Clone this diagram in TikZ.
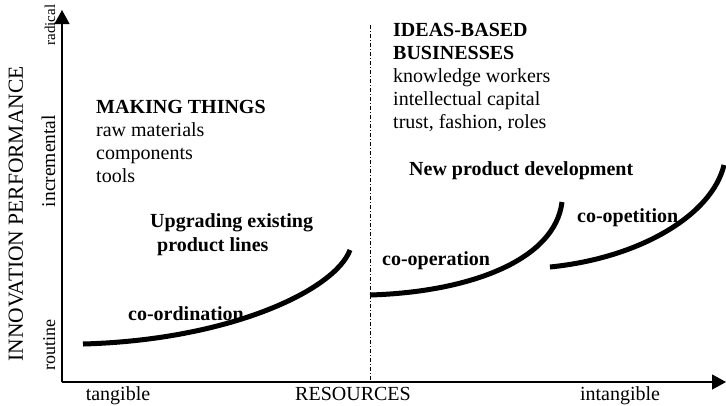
\documentclass[tikz,border=0pt]{standalone}
\usepackage{fontspec}
\setmainfont{Liberation Serif}
\usetikzlibrary{arrows.meta}

\begin{document}
\begin{tikzpicture}[x=1pt,y=-1pt,
    every node/.style={font=\fontsize{20}{23}\selectfont,inner sep=0pt},
    txt/.style={anchor=base west,align=left},
    hd/.style={txt,font=\fontsize{20}{24}\selectfont\bfseries},
    tick/.style={rotate=90,anchor=base,font=\fontsize{18}{20}\selectfont},
    curve/.style={line width=5pt},
    axis/.style={line width=1.2pt,-{Triangle[length=14pt,width=15pt]}}]
    \useasboundingbox (0,0) rectangle (726,405);
    % axes
    \coordinate (o) at (62,382);
    \coordinate (ytop) at (62,10);
    \coordinate (xend) at (726,382);
    \draw[axis] (o) -- (ytop);
    \draw[axis] (o) -- (xend);
    \coordinate (dtop) at (370,25);
    \coordinate (dbot) at (370,382);
    \draw[line width=0.8pt,dash pattern=on 4pt off 2pt on 1pt off 2pt] (dtop) -- (dbot);
    % axis labels
    \node[anchor=base] (tang) at (118,400) {tangible};
    \node[anchor=base] (res) at (353,400) {RESOURCES};
    \node[anchor=base] (intang) at (620,400) {intangible};
    \node[tick,font=\fontsize{15}{18}\selectfont] (rad) at (55,25) {radical};
    \node[tick,font=\fontsize{19.5}{22}\selectfont] (inc) at (55,161) {incremental};
    \node[tick] (rou) at (55,345) {routine};
    \node[rotate=90,anchor=base,font=\fontsize{21.5}{24}\selectfont] (perf) at (23,214) {INNOVATION PERFORMANCE};
    % making things (base = last line)
    \node[txt] (make) at (96,182) {\textbf{MAKING THINGS}\\raw materials\\components\\tools};
    \node[hd] (upg) at (150,251) {Upgrading existing\\\hspace*{7pt}product lines};
    \node[hd] (coord) at (128,320) {co-ordination};
    \draw[curve] (83,344) .. controls (230,340) and (335,290) .. (350,250);
    % ideas-based businesses
    \node[txt] (ideas) at (393,128) {\textbf{IDEAS-BASED}\\\textbf{BUSINESSES}\\knowledge workers\\intellectual capital\\trust, fashion, roles};
    \node[hd] (npd) at (409,175) {New product development};
    \node[hd] (coop) at (382,265) {co-operation};
    \node[hd] (coopet) at (577,222) {co-opetition};
    \draw[curve] (370,295) .. controls (470,292) and (555,260) .. (562,202);
    \draw[curve] (550,267) .. controls (640,258) and (712,215) .. (724,165);
\end{tikzpicture}
\end{document}
